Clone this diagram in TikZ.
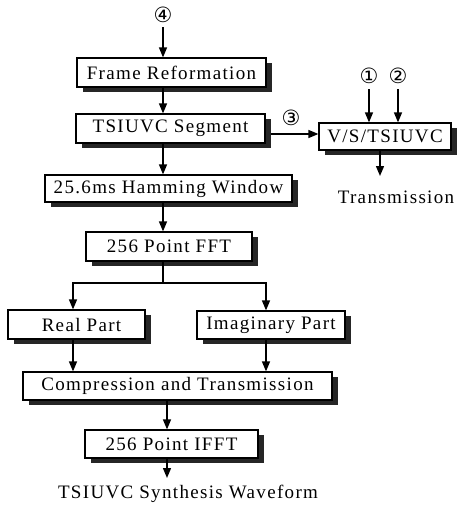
\documentclass[tikz,border=0pt]{standalone}
\usepackage{fontspec}
\usetikzlibrary{arrows.meta}
\newfontfamily\diagfont[LetterSpace=7]{Liberation Serif}
\newfontfamily\circfont{DejaVu Sans}
\tikzset{
  blk/.style={draw=black, line width=1.2pt, fill=white, inner sep=0pt, font=\diagfont\fontsize{19}{21}\selectfont},
  arr/.style={line width=1.4pt, -{Triangle[width=8pt,length=10pt]}},
  ln/.style={line width=1.4pt},
  num/.style={font=\circfont\fontsize{21}{21}\selectfont, inner sep=0pt},
  lbl/.style={font=\diagfont\fontsize{19}{21}\selectfont, inner sep=0pt}
}
\newcommand{\shbox}[6]{% name, x1,y1,x2,y2, text
  \fill[black!85] (#2+6,#3+5) rectangle (#4+6,#5+5);
  \node[blk, minimum width={(#4-#2)*1pt}, minimum height={(#5-#3)*1pt}] (#1) at ({(#2+#4)/2},{(#3+#5)/2}) {#6};
}
\begin{document}
\begin{tikzpicture}[x=1pt,y=-1pt]
\useasboundingbox (0,0) rectangle (456,506);
\shbox{frame}{77}{58}{266}{87}{Frame Reformation}
\shbox{seg}{76}{114}{265}{143}{TSIUVC Segment}
\shbox{vs}{319}{123}{451}{150}{V/S/TSIUVC}
\shbox{ham}{45}{175}{292}{202}{25.6ms Hamming Window}
\shbox{fft}{86}{232}{252}{261}{256 Point FFT}
\shbox{real}{8}{310}{145}{339}{\hspace*{10pt}Real Part}
\shbox{imag}{197}{311}{345}{339}{Imaginary Part}
\shbox{comp}{23}{372}{332}{400}{Compression and Transmission}
\shbox{ifft}{85}{430}{258}{458}{256 Point IFFT}

\coordinate (cA) at (163,0);
\coordinate (cB) at (73,0);
\coordinate (cC) at (266,0);
\coordinate (cD) at (167,0);
\coordinate (c1) at (369,0);
\coordinate (c2) at (398,0);
\coordinate (c3) at (380,0);

\node[num] (n4) at (163,15) {④};
\node[num] (n1) at (369,76) {①};
\node[num] (n2) at (398,76) {②};
\node[num] (n3) at (291,118) {③};

\draw[arr] (163,27) -- (frame.north -| cA);
\draw[arr] (frame.south -| cA) -- (seg.north -| cA);
\draw[arr] (seg.south -| cA) -- (ham.north -| cA);
\draw[arr] (ham.south -| cA) -- (fft.north -| cA);
\draw[arr] (271,134) -- (vs.west |- 0,134);
\draw[arr] (369,89) -- (vs.north -| c1);
\draw[arr] (398,89) -- (vs.north -| c2);
\coordinate (tx) at (380,176);
\draw[arr] (vs.south -| c3) -- (tx);
\node[lbl] (trans) at (396,197) {Transmission};

\coordinate (br) at (163,283);
\draw[ln] (fft.south -| cA) -- (br);
\draw[arr] (br) -| (real.north -| cB);
\draw[arr] (br) -| (imag.north -| cC);
\draw[arr] (real.south -| cB) -- ++(0,5) -- (comp.north -| cB);
\draw[arr] (imag.south -| cC) -- (comp.north -| cC);
\draw[arr] (comp.south -| cD) -- (ifft.north -| cD);
\coordinate (ox) at (167,478);
\draw[arr] (ifft.south -| cD) -- (ox);
\node[lbl] (out) at (188,494) {TSIUVC Synthesis Waveform};
\end{tikzpicture}
\end{document}
